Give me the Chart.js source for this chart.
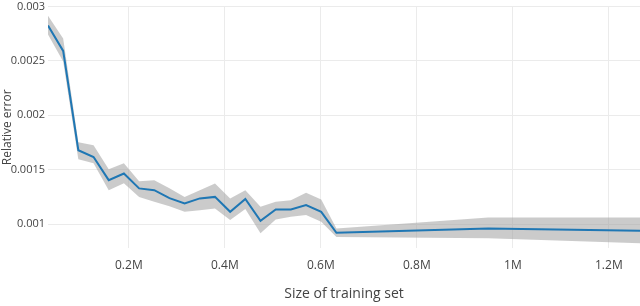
<!DOCTYPE html>
<html>
<head>
<meta charset="utf-8">
<script src="https://cdn.jsdelivr.net/npm/chart.js@4.4.1/dist/chart.umd.min.js"></script>
<style>
  html, body { margin: 0; padding: 0; background: #fff; }
  #wrap { width: 640px; height: 306px; position: relative; overflow: hidden; }
  #inner { position: absolute; left: 0; top: -3px; width: 640px; height: 309px; }
</style>
</head>
<body>
<div id="wrap"><div id="inner"><canvas id="myChart"></canvas></div></div>
<script>
// training set size, in millions
const sizeM = [0.0316, 0.0632, 0.0948, 0.1265, 0.1581, 0.1897, 0.2214, 0.2530, 0.2846, 0.3162,
               0.3479, 0.3795, 0.4111, 0.4427, 0.4743, 0.5060, 0.5376, 0.5692, 0.6008, 0.6325,
               0.9487, 1.2649];
const errMean = [0.002826, 0.002592, 0.001679, 0.001617, 0.001404, 0.001465, 0.001328, 0.001312, 0.001239, 0.001190,
                 0.001236, 0.001250, 0.001113, 0.001231, 0.001030, 0.001135, 0.001135, 0.001174, 0.001113, 0.000920,
                 0.000960, 0.000939];
const errUpper = [0.002917, 0.002706, 0.001752, 0.001725, 0.001505, 0.001560, 0.001394, 0.001404, 0.001330, 0.001250,
                  0.001312, 0.001373, 0.001236, 0.001312, 0.001159, 0.001205, 0.001220, 0.001287, 0.001227, 0.000959,
                  0.001061, 0.001061];
const errLower = [0.002743, 0.002495, 0.001596, 0.001560, 0.001312, 0.001376, 0.001248, 0.001205, 0.001165, 0.001113,
                  0.001128, 0.001144, 0.001037, 0.001138, 0.000915, 0.001043, 0.001067, 0.001083, 0.001021, 0.000881,
                  0.000869, 0.000823];
const xTicks = [0.2, 0.4, 0.6, 0.8, 1, 1.2];
const yTicks = [0.001, 0.0015, 0.002, 0.0025, 0.003];

function pts(ys) {
    return sizeM.map((x, i) => ({ x: x, y: ys[i] }));
}

Chart.defaults.font.family = '"Open Sans", sans-serif';
Chart.defaults.color = '#444';

new Chart(document.getElementById('myChart'), {
    type: 'line',
    data: {
        datasets: [
            {
                label: 'mean',
                data: pts(errMean),
                borderColor: '#1f77b4',
                borderWidth: 2,
                pointRadius: 0,
                fill: false,
                order: 0
            },
            {
                label: 'upper',
                data: pts(errUpper),
                borderWidth: 0,
                pointRadius: 0,
                backgroundColor: 'rgba(160,160,160,0.55)',
                fill: '+1',
                order: 1
            },
            {
                label: 'lower',
                data: pts(errLower),
                borderWidth: 0,
                pointRadius: 0,
                fill: false,
                order: 2
            }
        ]
    },
    options: {
        responsive: true,
        maintainAspectRatio: false,
        animation: false,
        layout: { padding: 0 },
        plugins: {
            legend: { display: false },
            tooltip: { enabled: false }
        },
        scales: {
            x: {
                type: 'linear',
                min: sizeM[0],
                max: sizeM[sizeM.length - 1],
                border: { display: false },
                grid: { color: '#ebebeb', drawTicks: false },
                afterBuildTicks: s => { s.ticks = xTicks.map(v => ({ value: v })); },
                afterFit: s => { s.height = 58; },
                ticks: {
                    padding: 10,
                    font: { size: 12 },
                    callback: v => v + 'M'
                },
                title: {
                    display: true,
                    text: 'Size of training set',
                    font: { size: 14 },
                    padding: { top: 8 }
                }
            },
            y: {
                min: 0.00078,
                max: 0.003,
                border: { display: false },
                grid: { color: '#ebebeb', drawTicks: false },
                afterBuildTicks: s => { s.ticks = yTicks.map(v => ({ value: v })); },
                afterFit: s => { s.width = 48; },
                ticks: {
                    padding: 3,
                    font: { size: 11 },
                    callback: v => String(+v.toFixed(4))
                },
                title: {
                    display: true,
                    text: 'Relative error',
                    font: { size: 12 },
                    padding: 0
                }
            }
        }
    }
});
</script>
</body>
</html>
